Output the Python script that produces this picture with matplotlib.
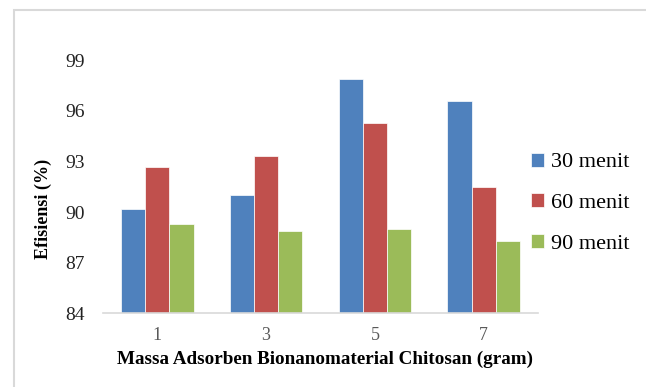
import numpy as np
import matplotlib.pyplot as plt
from matplotlib.patches import Rectangle

# data
massa = ['1', '3', '5', '7']
menit30 = [90.2, 91.0, 97.9, 96.6]
menit60 = [92.7, 93.3, 95.3, 91.5]
menit90 = [89.3, 88.9, 89.0, 88.3]
seri = ['30 menit', '60 menit', '90 menit']
warna = ['#4F81BD', '#C0504D', '#9BBB59']
yticks = [84, 87, 90, 93, 96, 99]

plt.rcParams['font.family'] = ['Liberation Serif', 'DejaVu Serif']

fig = plt.figure(figsize=(6.46, 3.87), dpi=100)
# chart frame (cropped on the right and bottom)
fig.patches.append(Rectangle((14/646, -0.1), 1.0, 1 - 10/387 + 0.1,
                             transform=fig.transFigure, fill=False,
                             edgecolor='#D9D9D9', linewidth=1.5))

ax = fig.add_axes([103/646, 1 - 313.3/387, 435/646, 253/387])
x = np.arange(len(massa))
w = 0.222
for i, (vals, lab) in enumerate(zip([menit30, menit60, menit90], seri)):
    ax.bar(x + (i - 1) * w, vals, w, bottom=0, color=warna[i], label=lab,
           edgecolor='white', linewidth=0.5)

ax.set_ylim(84, 99)
ax.set_xlim(-0.5, 3.5)
ax.set_yticks(yticks)
ax.set_xticks(x)
ax.set_xticklabels(massa)
for s in ['top', 'right', 'left']:
    ax.spines[s].set_visible(False)
ax.spines['bottom'].set_color('#D9D9D9')
ax.spines['bottom'].set_linewidth(1.2)
ax.tick_params(axis='both', length=0)
ax.tick_params(axis='y', labelsize=14, pad=13, labelcolor='#222222')
ax.tick_params(axis='x', labelsize=13, pad=10, labelcolor='#595959')

ax.set_ylabel('Efisiensi (%)', fontsize=13, fontweight='bold', labelpad=10)
ax.yaxis.label.set_y(0.414)
ax.set_xlabel('Massa Adsorben Bionanomaterial Chitosan (gram)', fontsize=13.8,
              fontweight='bold', labelpad=5)
ax.xaxis.label.set_x(0.51)

ax.legend(loc='center left', bbox_to_anchor=(0.984, 0.435), frameon=False,
          fontsize=16, handlelength=0.6, handleheight=0.6, handletextpad=0.3,
          labelspacing=0.94, borderpad=0, borderaxespad=0)

plt.savefig('out.png', dpi=100)
